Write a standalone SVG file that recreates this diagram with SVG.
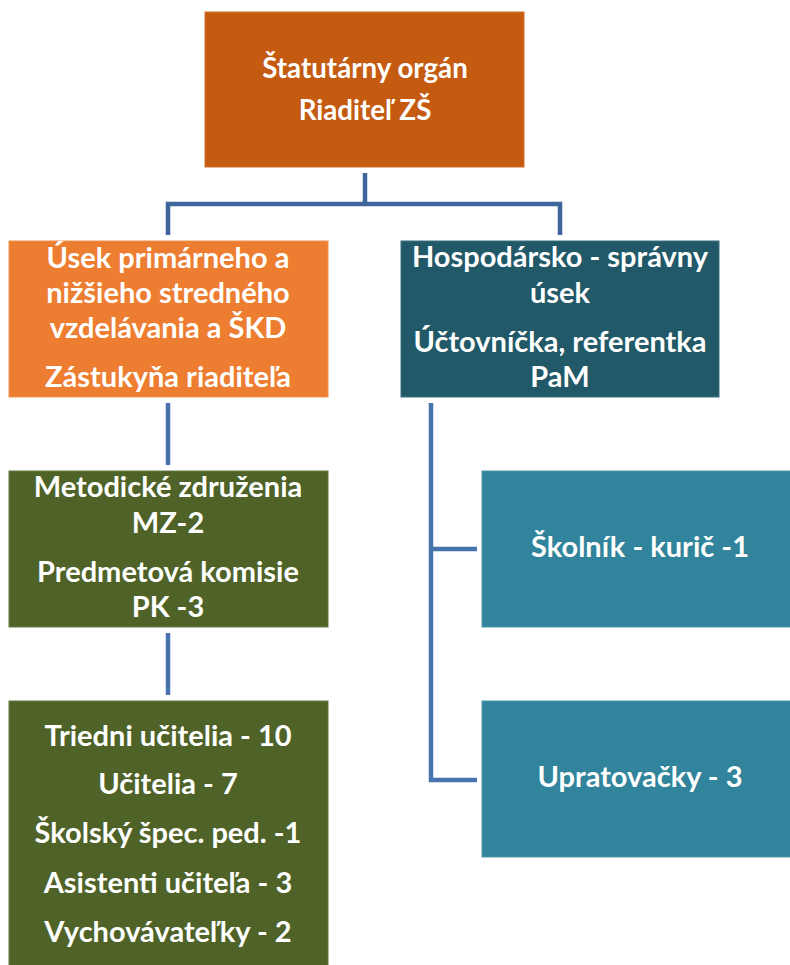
<svg xmlns="http://www.w3.org/2000/svg" width="790" height="965" viewBox="0 0 790 965">
<style>
text{font-family:Lato,"Liberation Sans",sans-serif;font-weight:700;font-size:29px;fill:#ffffff;text-anchor:middle}
.top{font-size:27.7px}
.c{fill:none;stroke-width:4.5}
</style>
<rect width="790" height="965" fill="#ffffff"/>
<g id="connectors">
<path class="c" stroke="#3F669C" d="M168,235 V204 H560 V235 M365,173 V204"/>
<path class="c" stroke="#4874AE" d="M168,403 V465 M168,633 V695 M431,403 V780 H477 M431,549 H477"/>
</g>
<g id="n1">
<rect x="205" y="12" width="319" height="155" fill="#C55A11" stroke="#D2722F" stroke-width="1"/>
<text class="top" x="365" y="78">Štatutárny orgán</text>
<text class="top" x="365" y="120">Riaditeľ ZŠ</text>
</g>
<g id="n2">
<rect x="9" y="241" width="319" height="156" fill="#ED7D31" stroke="#F0924F" stroke-width="1"/>
<text x="168" y="268">Úsek primárneho a</text>
<text x="168" y="303">nižšieho stredného</text>
<text x="168" y="338">vzdelávania a ŠKD</text>
<text x="168" y="387">Zástukyňa riaditeľa</text>
</g>
<g id="n3">
<rect x="401" y="241" width="318" height="156" fill="#215968" stroke="#3D7080" stroke-width="1"/>
<text x="560" y="267">Hospodársko - správny</text>
<text x="560" y="303">úsek</text>
<text x="560" y="352">Účtovníčka, referentka</text>
<text x="560" y="387">PaM</text>
</g>
<g id="n4">
<rect x="9" y="471" width="319" height="156" fill="#4F6228" stroke="#677A45" stroke-width="1"/>
<text x="168" y="497">Metodické združenia</text>
<text x="168" y="533">MZ-2</text>
<text x="168" y="582">Predmetová komisie</text>
<text x="168" y="617">PK -3</text>
</g>
<g id="n5">
<rect x="9" y="701" width="319" height="270" fill="#4F6228" stroke="#677A45" stroke-width="1"/>
<text x="168" y="746">Triedni učitelia - 10</text>
<text x="168" y="794">Učitelia - 7</text>
<text x="168" y="843">Školský špec. ped. -1</text>
<text x="168" y="893">Asistenti učiteľa - 3</text>
<text x="168" y="942">Vychovávateľky - 2</text>
</g>
<g id="n6">
<rect x="482" y="471" width="315" height="156" fill="#31849B" stroke="#4E97AB" stroke-width="1"/>
<text x="640" y="557">Školník - kurič -1</text>
</g>
<g id="n7">
<rect x="482" y="701" width="315" height="156" fill="#31849B" stroke="#4E97AB" stroke-width="1"/>
<text x="640" y="787">Upratovačky - 3</text>
</g>
</svg>
